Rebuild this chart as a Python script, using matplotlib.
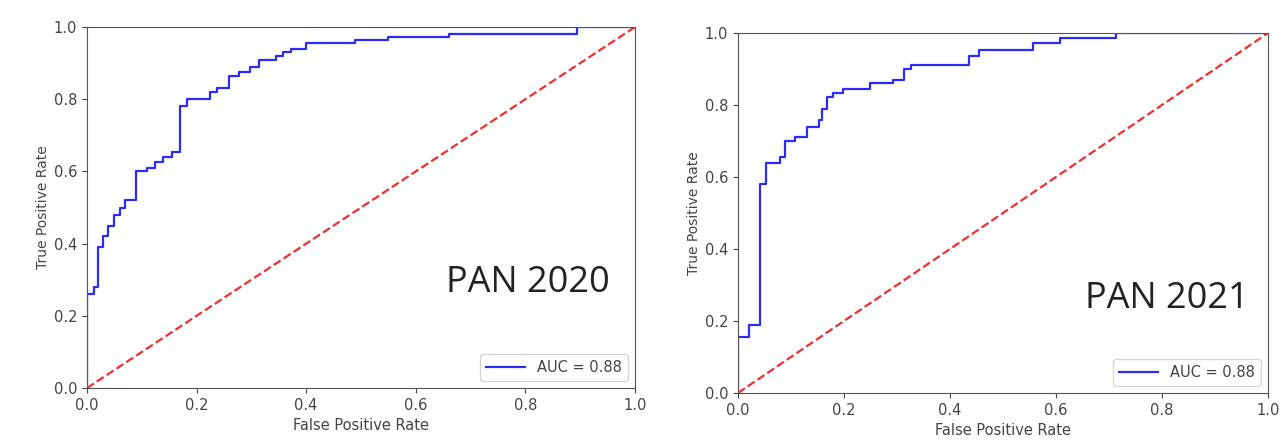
import matplotlib
matplotlib.use("Agg")
import matplotlib.pyplot as plt

# ROC curve vertices (steps-post)
fpr_2020 = [0, 0, 0.012, 0.020, 0.029, 0.039, 0.050, 0.060, 0.070, 0.090, 0.110, 0.124,
            0.138, 0.156, 0.170, 0.182, 0.225, 0.238, 0.260, 0.277, 0.297, 0.314, 0.345,
            0.358, 0.372, 0.400, 0.490, 0.550, 0.660, 0.895, 1.0]
tpr_2020 = [0, 0.26, 0.28, 0.39, 0.42, 0.45, 0.48, 0.50, 0.52, 0.60, 0.61, 0.625,
            0.64, 0.655, 0.78, 0.80, 0.82, 0.83, 0.865, 0.875, 0.89, 0.91, 0.92,
            0.93, 0.94, 0.955, 0.965, 0.972, 0.982, 1.0, 1.0]

fpr_2021 = [0, 0, 0.020, 0.041, 0.052, 0.080, 0.089, 0.108, 0.130, 0.152, 0.158, 0.168,
            0.180, 0.199, 0.249, 0.293, 0.314, 0.327, 0.436, 0.455, 0.557, 0.608, 0.714, 1.0]
tpr_2021 = [0, 0.155, 0.19, 0.58, 0.64, 0.655, 0.70, 0.71, 0.74, 0.757, 0.79, 0.823,
            0.834, 0.843, 0.86, 0.87, 0.90, 0.91, 0.935, 0.953, 0.972, 0.985, 1.0, 1.0]

auc_2020 = 0.88
auc_2021 = 0.88
titles = ["PAN 2020", "PAN 2021"]
ticks = [0.0, 0.2, 0.4, 0.6, 0.8, 1.0]

fig = plt.figure(figsize=(12.88, 4.43), dpi=100)
ax1 = fig.add_axes([0.0675, 0.124, 0.4255, 0.815])
ax2 = fig.add_axes([0.573, 0.113, 0.4115, 0.8126])

panels = [(ax1, fpr_2020, tpr_2020, auc_2020, titles[0], (0.656, 0.29)),
          (ax2, fpr_2021, tpr_2021, auc_2021, titles[1], (0.655, 0.26))]

for ax, fpr, tpr, auc, name, (tx, ty) in panels:
    ax.plot(fpr, tpr, color="#2b2bf5", lw=1.6, drawstyle="steps-post",
            label="AUC = %0.2f" % auc)
    ax.plot([0, 1], [0, 1], color="#f03030", ls="--", lw=1.6)
    ax.set_xlim(0, 1)
    ax.set_ylim(0, 1)
    ax.set_xticks(ticks)
    ax.set_yticks(ticks)
    ax.tick_params(labelsize=10.5, colors="#444444")
    for s in ax.spines.values():
        s.set_color("#555555")
    ax.set_xlabel("False Positive Rate", fontsize=10.5, color="#444444")
    ax.set_ylabel("True Positive Rate", fontsize=10, color="#444444", labelpad=3)
    leg = ax.legend(loc="lower right", fontsize=10.5, handlelength=2.7)
    for t in leg.get_texts():
        t.set_color("#444444")
    ax.text(tx, ty, name, fontsize=26, family="Open Sans", color="#222222",
            va="center", ha="left")

fig.savefig("out.png", dpi=100)
